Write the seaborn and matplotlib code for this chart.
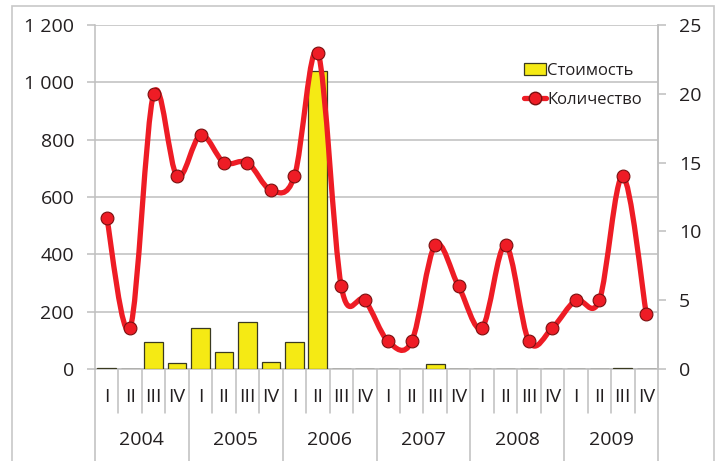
import numpy as np
import pandas as pd
import matplotlib
matplotlib.use("Agg")
import matplotlib.pyplot as plt
import seaborn as sns
from matplotlib.path import Path
from matplotlib.patches import PathPatch, Patch, Rectangle
from matplotlib.lines import Line2D
from matplotlib.ticker import FuncFormatter, MultipleLocator
import matplotlib.transforms as mtransforms

# data
years = ["2004", "2005", "2006", "2007", "2008", "2009"]
quarters = ["I", "II", "III", "IV"]
cost = [5, 0, 95, 20, 143, 60, 163, 25, 93, 1040, 0, 0,
        0, 0, 17, 0, 0, 0, 0, 0, 0, 0, 4, 0]
count = [11, 3, 20, 14, 17, 15, 15, 13, 14, 23, 6, 5,
         2, 2, 9, 6, 3, 9, 2, 3, 5, 5, 14, 4]

sns.set_style("white")
plt.rcParams["font.family"] = ["Open Sans", "DejaVu Sans"]

W, H = 724, 461
fig = plt.figure(figsize=(W / 100, H / 100), dpi=100)
x0, x1, y_top, y_bot = 95, 658, 25, 369
ax = fig.add_axes([x0 / W, 1 - y_bot / H, (x1 - x0) / W, (y_bot - y_top) / H])

# chart border
fig.patches.append(Rectangle((12 / W, -0.1), (714 - 12) / W, 1.1 - 6 / H,
                             transform=fig.transFigure, fill=False,
                             edgecolor="#C8C8C8", lw=1.2))

df = pd.DataFrame({"pos": range(len(cost)), "cost": cost})
grey = "#BFBFBF"
txt = "#231F20"

sns.barplot(data=df, x="pos", y="cost", ax=ax, color="#F5EA14", saturation=1,
            edgecolor="#3A3A20", linewidth=0.9, width=0.8, zorder=3)
ax.set_xlim(-0.5, len(cost) - 0.5)
ax.set_ylim(0, 1200)
ax.yaxis.set_major_locator(MultipleLocator(200))
ax.yaxis.set_major_formatter(FuncFormatter(lambda v, p: f"{int(v):,}".replace(",", " ")))
ax.grid(axis="y", color=grey, lw=1.1, zorder=0)
ax.set_axisbelow(True)
ax.set_xlabel("")
ax.set_ylabel("")
ax.spines["top"].set_visible(False)
for s in ["left", "right", "bottom"]:
    ax.spines[s].set_color(grey)
    ax.spines[s].set_linewidth(1.1)
ax.tick_params(axis="y", length=6, width=1.1, color=grey, labelsize=14,
               labelcolor=txt, pad=9, direction="out")
ax.tick_params(axis="x", length=0, labelbottom=False)

# multi-level category axis
trans = mtransforms.blended_transform_factory(ax.transData, ax.transAxes)
n = len(cost)
for i in range(n):
    ax.text(i, -0.08, quarters[i % 4], transform=trans, ha="center", va="center",
            fontsize=14, color=txt)
for i in range(n + 1):
    low = -0.27 if i % 4 == 0 else -0.128
    ax.plot([i - 0.5, i - 0.5], [0, low], transform=trans, color=grey, lw=1.1,
            clip_on=False)
for k, yr in enumerate(years):
    ax.text(4 * k + 1.5, -0.205, yr, transform=trans, ha="center", va="center",
            fontsize=14, color=txt)

# count line on right axis
ax2 = ax.twinx()
ax2.set_ylim(0, 25)
ax2.yaxis.set_major_locator(MultipleLocator(5))
ax2.tick_params(axis="y", length=6, width=1.1, color=grey, labelsize=14,
                labelcolor=txt, pad=9, direction="out")
for s in ["top", "left", "bottom"]:
    ax2.spines[s].set_visible(False)
ax2.spines["right"].set_color(grey)
ax2.spines["right"].set_linewidth(1.1)

pts = np.column_stack([np.arange(n, dtype=float), np.array(count, dtype=float)])
verts = [pts[0]]
codes = [Path.MOVETO]
for i in range(n - 1):
    p0 = pts[i - 1] if i > 0 else pts[i]
    p1, p2 = pts[i], pts[i + 1]
    p3 = pts[i + 2] if i + 2 < n else pts[i + 1]
    verts += [p1 + (p2 - p0) / 6, p2 - (p3 - p1) / 6, p2]
    codes += [Path.CURVE4] * 3
red = "#EE1C25"
ax2.add_patch(PathPatch(Path(verts, codes), fill=False, edgecolor=red, lw=3.8,
                        capstyle="round", joinstyle="round", zorder=3))
sns.scatterplot(x=pts[:, 0], y=pts[:, 1], ax=ax2, s=85, color=red,
                edgecolor="#7A1010", linewidth=0.8, zorder=4, legend=False)

handles = [Patch(facecolor="#F5EA14", edgecolor="#3A3A20", lw=0.9),
           Line2D([], [], color=red, lw=3.8, marker="o", markersize=9,
                  markerfacecolor=red, markeredgecolor="#7A1010")]
fig.legend(handles, ["Стоимость", "Количество"], loc="upper left",
           bbox_to_anchor=(509 / W, 1 - 48 / H), frameon=False, fontsize=12,
           handlelength=1.3, handletextpad=0.1, labelspacing=0.75,
           labelcolor=txt)

fig.savefig("out.png", dpi=100)
